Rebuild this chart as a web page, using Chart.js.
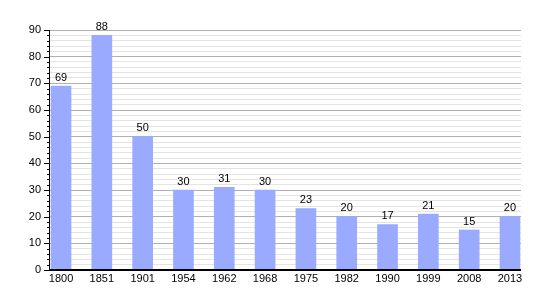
<!DOCTYPE html>
<html><head><meta charset="utf-8">
<script src="https://cdn.jsdelivr.net/npm/chart.js@4"></script>
<style>html,body{margin:0;padding:0;background:#fff}#wrap{width:550px;height:300px}</style>
</head><body><div id="wrap"><canvas id="c" width="550" height="300"></canvas></div>
<script>
const years = ['1800','1851','1901','1954','1962','1968','1975','1982','1990','1999','2008','2013'];
const population = [69, 88, 50, 30, 31, 30, 23, 20, 17, 21, 15, 20];
const yMax = 90;

const FONT = 'Liberation Sans, Arial, sans-serif';

const valueLabels = {
  id: 'valueLabels',
  afterDatasetsDraw(chart) {
    const ctx = chart.ctx;
    const meta = chart.getDatasetMeta(0);
    ctx.save();
    ctx.font = '11px ' + FONT;
    ctx.fillStyle = '#000';
    ctx.textAlign = 'center';
    ctx.textBaseline = 'bottom';
    meta.data.forEach((bar, i) => {
      ctx.fillText(String(population[i]), bar.x, bar.y - 3);
    });
    ctx.restore();
  }
};

const yTicks = {
  id: 'yTicks',
  afterDraw(chart) {
    const ctx = chart.ctx;
    const ys = chart.scales.y;
    const x0 = chart.chartArea.left;
    ctx.save();
    ctx.strokeStyle = '#000';
    ctx.lineWidth = 1;
    for (let v = 0; v <= yMax; v += 2) {
      const py = Math.round(ys.getPixelForValue(v)) + 0.5;
      const len = v % 10 === 0 ? 6 : 3;
      ctx.beginPath();
      ctx.moveTo(x0 - len, py);
      ctx.lineTo(x0, py);
      ctx.stroke();
    }
    ctx.beginPath();
    ctx.moveTo(x0 - 0.5, chart.chartArea.top);
    ctx.lineTo(x0 - 0.5, chart.chartArea.bottom);
    ctx.stroke();
    ctx.lineWidth = 2;
    ctx.beginPath();
    ctx.moveTo(x0 - 1, chart.chartArea.bottom);
    ctx.lineTo(chart.chartArea.right, chart.chartArea.bottom);
    ctx.stroke();
    ctx.restore();
  }
};

new Chart(document.getElementById('c'), {
  type: 'bar',
  data: {
    datasets: [{
      data: population.map((v, i) => ({x: i, y: v})),
      backgroundColor: '#99aaff',
      borderWidth: 0,
      barThickness: 20
    }]
  },
  plugins: [valueLabels, yTicks],
  options: {
    responsive: false,
    animation: false,
    events: [],
    layout: {padding: {left: 0, right: 29, top: 30, bottom: 0}},
    plugins: {legend: {display: false}, tooltip: {enabled: false}},
    scales: {
      x: {
        type: 'linear',
        min: -0.27,
        max: 11.27,
        offset: false,
        afterBuildTicks(scale) {
          scale.ticks = years.map((_, i) => ({value: i}));
        },
        afterFit(scale) { scale.height = 30; },
        ticks: {
          autoSkip: false,
          maxRotation: 0,
          padding: 2,
          color: '#000',
          font: {family: FONT, size: 11},
          callback: (v) => years[Math.round(v)]
        },
        grid: {display: false, drawTicks: false},
        border: {display: false}
      },
      y: {
        min: 0,
        max: yMax,
        afterFit(scale) { scale.width = 50; },
        ticks: {
          stepSize: 2,
          autoSkip: false,
          padding: 9,
          color: '#000',
          font: {family: FONT, size: 11},
          callback: (v) => (v % 10 === 0 ? String(v) : '')
        },
        grid: {
          drawTicks: false,
          color: (c) => (c.tick && c.tick.value % 10 === 0 ? '#b0b0b0' : '#e4e4e4'),
          lineWidth: 1
        },
        border: {display: false}
      }
    }
  }
});
</script>
</body></html>
